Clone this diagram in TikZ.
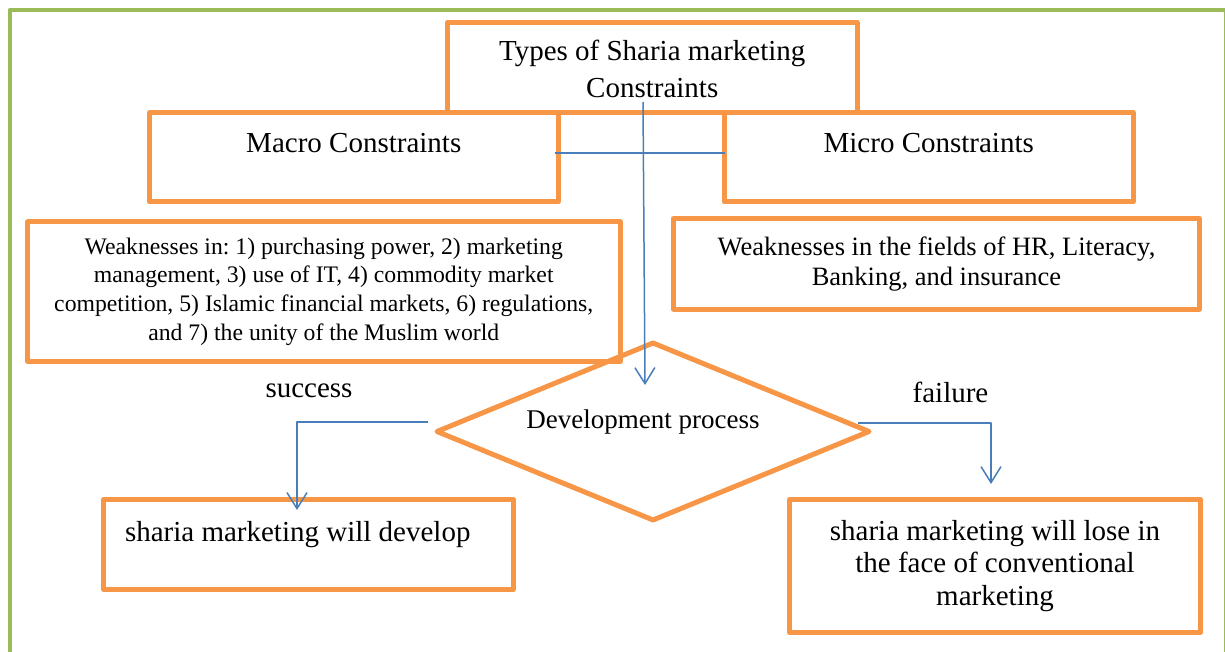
\documentclass[tikz,border=0pt]{standalone}
\usepackage{fontspec}
\setmainfont{Liberation Serif}
\frenchspacing
\usetikzlibrary{shapes.geometric,arrows.meta}
\definecolor{framegreen}{HTML}{9BBB59}
\definecolor{boxorange}{HTML}{F79646}
\definecolor{lineblue}{HTML}{4A7EBB}
\begin{document}
\begin{tikzpicture}[x=1pt, y=-1pt, line join=round, >={Straight Barb[length=16pt,width=20pt]},
	box/.style={draw=boxorange, line width=5pt, inner sep=0pt, outer sep=0pt, align=center, font=\fontsize{29}{37.5}\selectfont},
	flow/.style={draw=lineblue, line width=1.5pt},
	tag/.style={font=\fontsize{29}{35}\selectfont}]
	\useasboundingbox (0,0) rectangle (1225,652);
	\draw[framegreen, line width=4pt] (9.5,652) -- (9.5,10) -- (1225.5,10) -- (1225.5,652);
	% boxes
	\node[box, minimum width=409.5pt, minimum height=90pt, align=flush center, text width=400pt, text depth=34.5pt] (title) at (652.25,67.5) {Types of Sharia marketing\\Constraints};
	\node[box, minimum width=408.5pt, minimum height=89.5pt, text height=20pt, text depth=30pt] (macro) at (353.75,157.25) {Macro Constraints};
	\node[box, minimum width=408.5pt, minimum height=89.5pt, text height=20pt, text depth=30pt] (micro) at (928.75,157.25) {Micro Constraints};
	\node[box, minimum width=592.5pt, minimum height=139pt, font=\fontsize{23.7}{28.7}\selectfont] (weakmacro) at (323.75,291.5) {Weaknesses in: 1) purchasing power, 2) marketing\\management, 3) use of IT, 4) commodity market\\competition, 5) Islamic financial markets, 6) regulations,\\and 7) the unity of the Muslim world};
	\node[box, minimum width=526pt, minimum height=90.5pt, font=\fontsize{26.5}{30}\selectfont] (weakmicro) at (936.5,263.75) {Weaknesses in the fields of HR, Literacy,\\Banking, and insurance};
	\node[diamond, draw=boxorange, line width=5pt, minimum width=432pt, minimum height=177pt, inner sep=0pt, outer sep=0pt] (dev) at (653,431.5) {};
	\node[font=\fontsize{27}{32}\selectfont, anchor=base] (devlabel) at (643,428) {Development process};
	\node[box, minimum width=409.5pt, minimum height=90pt, align=flush left, text width=366.5pt, inner xsep=21.5pt, text height=20pt, text depth=26pt] (develop) at (308.25,544.5) {sharia marketing will develop};
	\node[box, minimum width=411pt, minimum height=133pt, font=\fontsize{29}{32.5}\selectfont] (lose) at (995,566) {sharia marketing will lose in\\the face of conventional\\marketing};
	\node[tag] (success) at (309,391) {success};
	\node[tag] (failure) at (950.5,392) {failure};
	% connectors
	\draw[flow] ([xshift=-3pt,yshift=4.25pt]macro.east) -- ([yshift=4.25pt]micro.west);
	\draw[flow,->] ([xshift=-9.25pt,yshift=10.5pt]title.south) -- ([xshift=-8pt,yshift=-42pt]dev.north);
	\draw[flow,->] ([xshift=-9pt,yshift=9.5pt]dev.west) -| ([xshift=-11.25pt,yshift=-10.5pt]develop.north);
	\draw[flow,->] ([xshift=-11pt,yshift=8.5pt]dev.east) -| ([xshift=-4pt,yshift=15.5pt]lose.north);
\end{tikzpicture}
\end{document}
